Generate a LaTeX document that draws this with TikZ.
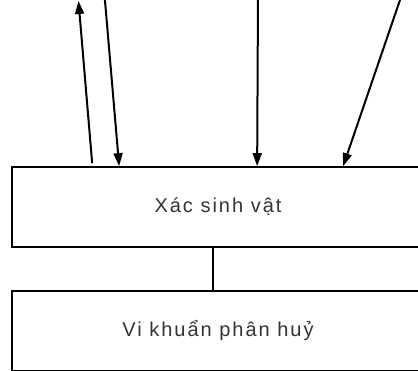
\documentclass[tikz,border=0pt]{standalone}
\usepackage{fontspec}
\setmainfont{Liberation Sans}[LetterSpace=10]
\usepackage{tikz}
\usetikzlibrary{arrows.meta}

\begin{document}
\begin{tikzpicture}[x=1pt,y=-1pt,font=\fontsize{20}{24}\selectfont,
  box/.style={draw,line width=1.7pt,minimum width=412pt,minimum height=80pt,inner sep=0pt,text=black!80},
  arr/.style={-{Triangle[length=13pt,width=9pt]},line width=2pt}]
  \useasboundingbox (0,0) rectangle (418,371);
  \clip (0,0) rectangle (418,371);
  \node[box] (xac) at (218,207) {Xác sinh vật};
  \node[box] (vk) at (218,331) {Vi khuẩn phân huỷ};
  \draw[line width=1.7pt] ([xshift=202pt]xac.south west) -- ([xshift=202pt]vk.north west);
  \coordinate (out) at (78.5,1);
  \coordinate (in1) at (104.5,-5);
  \coordinate (in2) at (258,-5);
  \coordinate (in3) at (401.7,-5);
  \draw[arr] ([xshift=81pt,yshift=3pt]xac.north west) -- (out);
  \draw[arr] (in1) -- ([xshift=108pt]xac.north west);
  \draw[arr] (in2) -- ([xshift=246pt]xac.north west);
  \draw[arr] (in3) -- ([xshift=332pt]xac.north west);
\end{tikzpicture}
\end{document}
